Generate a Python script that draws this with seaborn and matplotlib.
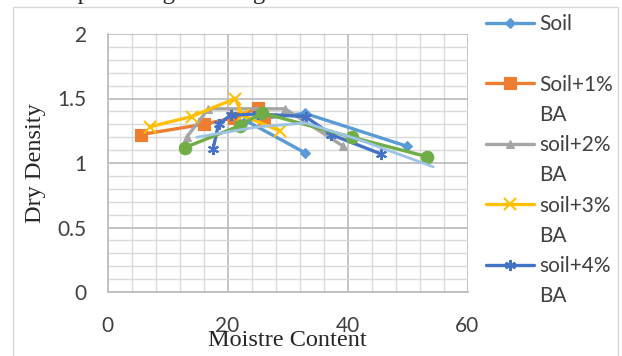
import matplotlib
matplotlib.use("Agg")
import matplotlib.pyplot as plt
import seaborn as sns
import pandas as pd
from matplotlib.lines import Line2D
from matplotlib.patches import Rectangle
from matplotlib.ticker import MultipleLocator

# ---- data ----
soil_x = [49.9, 32.9, 23.0, 32.9]
soil_y = [1.13, 1.385, 1.33, 1.08]
ba1_x = [5.5, 16.0, 21.0, 25.0, 26.0]
ba1_y = [1.22, 1.30, 1.35, 1.43, 1.33]
ba2_x = [13.2, 16.8, 29.6, 39.3]
ba2_y = [1.20, 1.42, 1.42, 1.13]
ba3_x = [7.0, 14.0, 21.3, 22.5, 28.7]
ba3_y = [1.28, 1.36, 1.50, 1.37, 1.25]
ba4_x = [17.6, 18.5, 20.5, 25.0, 33.0, 37.3, 45.6]
ba4_y = [1.11, 1.30, 1.37, 1.38, 1.36, 1.22, 1.07]
ba5_x = [12.9, 22.1, 25.7, 40.7, 53.2]
ba5_y = [1.12, 1.29, 1.39, 1.20, 1.05]
ba6_x = [14.9, 25.0, 33.0, 42.0, 54.3]
ba6_y = [1.20, 1.28, 1.31, 1.18, 0.97]

legend_first = ["Soil", "Soil+1%", "soil+2%", "soil+3%", "soil+4%"]
xticks = [0, 20, 40, 60]
yticks = [0, 0.5, 1, 1.5, 2]
yticklabels = ["0", "0.5", "1", "1.5", "2"]
x_label = "Moistre Content"
y_label = "Dry Density"
top_text = "nt percentages of bagasse ash."

colors = ["#5B9BD5", "#ED7D31", "#A5A5A5", "#FFC000", "#4472C4", "#70AD47", "#9DC3E6"]
markers = ["D", "s", "^", "x", (6, 2, 0), "o", None]
msizes = [5, 8, 6, 8, 8, 9, 0]

sns.set_style("white")
plt.rcParams["font.family"] = ["Lato", "DejaVu Sans"]

W, H = 622, 356
fig = plt.figure(figsize=(W / 100, H / 100), dpi=100)
ax = fig.add_axes([107.5 / W, 1 - 292 / H, 360 / W, 258 / H])

xs = [soil_x, ba1_x, ba2_x, ba3_x, ba4_x, ba5_x, ba6_x]
ys = [soil_y, ba1_y, ba2_y, ba3_y, ba4_y, ba5_y, ba6_y]
order = [6, 0, 1, 2, 3, 4, 5]
for i in order:
    df = pd.DataFrame({"x": xs[i], "y": ys[i]})
    sns.lineplot(data=df, x="x", y="y", sort=False, estimator=None, ax=ax,
                 color=colors[i], lw=2.4 if i != 6 else 2.0,
                 marker=markers[i] if markers[i] is not None else None,
                 markersize=msizes[i], markeredgewidth=1.5 if i in (3, 4) else 0.8,
                 markeredgecolor=colors[i], zorder=3 + i)

ax.set_xlim(0, 60)
ax.set_ylim(0, 2)
ax.set_xticks(xticks)
ax.set_yticks(yticks)
ax.set_yticklabels(yticklabels)
ax.xaxis.set_minor_locator(MultipleLocator(4))
ax.yaxis.set_minor_locator(MultipleLocator(0.1))
ax.grid(which="major", color="#BFBFBF", lw=1.3, zorder=0)
ax.grid(which="minor", color="#D9D9D9", lw=1.0, zorder=0)
ax.set_axisbelow(True)
for s in ["top", "right"]:
    ax.spines[s].set_visible(False)
for s in ["left", "bottom"]:
    ax.spines[s].set_color("#BFBFBF")
    ax.spines[s].set_linewidth(1.3)
ax.tick_params(which="major", length=7, width=1.2, color="#BFBFBF",
               labelsize=15, labelcolor="#404040", pad=8)
ax.tick_params(which="minor", length=0)
ax.tick_params(axis="x", pad=10)
ax.set_xlabel("")
ax.set_ylabel("")

fig.text(287 / W, 1 - 340 / H, x_label, family="Liberation Serif", fontsize=17.5,
         ha="center", va="center", color="#262626")
fig.text(35 / W, 1 - 163 / H, y_label, family="Liberation Serif", fontsize=17.5,
         ha="center", va="center", rotation=90, color="#262626")

# legend: one row per text line
handles, labels = [], []
for i in range(5):
    handles.append(Line2D([], [], color=colors[i], lw=2.4, marker=markers[i],
                          markersize=msizes[i], markeredgecolor=colors[i],
                          markeredgewidth=1.5 if i in (3, 4) else 0.8))
    labels.append(legend_first[i])
    handles.append(Line2D([], [], color="none"))
    labels.append("" if i == 0 else "BA")
leg = fig.legend(handles, labels, loc="upper left", bbox_to_anchor=(478 / W, 1 - 6 / H),
                 frameon=False, fontsize=15, labelspacing=0.49, handlelength=2.3,
                 handletextpad=0.25, borderaxespad=0)
for t in leg.get_texts():
    t.set_color("#404040")

# chart border and cropped caption line
fig.patches.append(Rectangle((13 / W, -0.05), 605 / W, 1 - 7 / H + 0.05,
                             transform=fig.transFigure, fill=False,
                             edgecolor="#D9D9D9", lw=1.0))
fig.text(52 / W, 1 + 0.5 / H, top_text, family="Liberation Serif", fontsize=18,
         ha="left", va="baseline", color="#262626")

fig.savefig("out.png", dpi=100)
